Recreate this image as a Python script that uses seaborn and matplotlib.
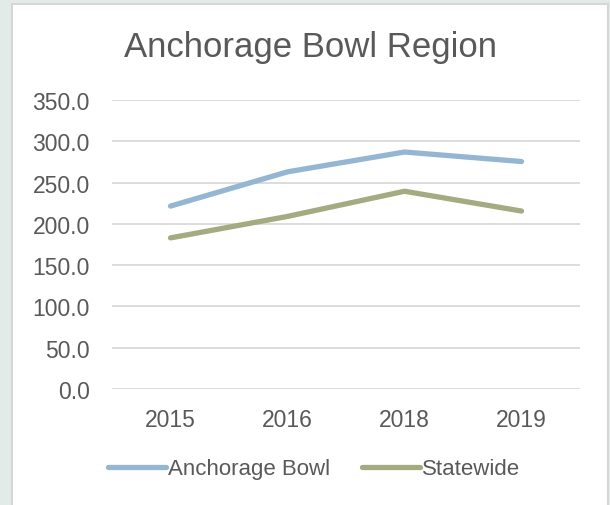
import pandas as pd
import matplotlib.pyplot as plt
import seaborn as sns
from matplotlib.patches import Rectangle

# Data
years = ["2015", "2016", "2018", "2019"]
anchorage = [221.5, 263.0, 287.0, 275.5]
statewide = [183.0, 209.0, 239.5, 215.5]
series_names = ["Anchorage Bowl", "Statewide"]
y_ticks = [0, 50, 100, 150, 200, 250, 300, 350]

df = pd.DataFrame({
    "year": years * 2,
    "value": anchorage + statewide,
    "series": [series_names[0]] * len(years) + [series_names[1]] * len(years),
})

sns.set_style("white")
plt.rcParams['font.family'] = ['Liberation Sans', 'DejaVu Sans']
text_col = "#595959"

fig = plt.figure(figsize=(6.10, 5.06), dpi=100)
fig.patch.set_facecolor("#E3EBE9")
# white chart box with thin grey border, behind the axes
fig.patches.append(Rectangle((12 / 610, -0.01), 596 / 610, 1 - 5 / 506 + 0.01,
                             transform=fig.transFigure, facecolor="white",
                             edgecolor="#D6D6D6", linewidth=1.5, zorder=-5))

ax = fig.add_axes([112 / 610, 1 - 390 / 506, 468 / 610, 289 / 506])
ax.patch.set_alpha(0)

palette = {"Anchorage Bowl": "#94B6D2", "Statewide": "#A5AB81"}
sns.lineplot(data=df, x="year", y="value", hue="series", palette=palette,
             linewidth=3.8, ax=ax, sort=False, legend=True)
for ln in ax.get_lines():
    ln.set_solid_capstyle("round")
    ln.set_solid_joinstyle("round")

ax.set_xlim(-0.5, 3.5)
ax.set_ylim(0, 350)
ax.set_yticks(y_ticks)
ax.set_yticklabels([f"{v:.1f}" for v in y_ticks])
ax.yaxis.grid(True, color="#D9D9D9", linewidth=1.3)
ax.set_axisbelow(True)
for s in ax.spines.values():
    s.set_visible(False)
ax.tick_params(axis="both", length=0, labelsize=16.5, labelcolor=text_col)
ax.tick_params(axis="y", pad=16)
ax.tick_params(axis="x", pad=14)
ax.set_xlabel("")
ax.set_ylabel("")

fig.text(310 / 610, 1 - 47 / 506, "Anchorage Bowl Region", ha="center", va="center",
         fontsize=25, color=text_col)

handles, labels = ax.get_legend_handles_labels()
ax.legend(handles, labels, loc="center", bbox_to_anchor=(314 / 610, 1 - 470 / 506),
          bbox_transform=fig.transFigure, ncol=2, frameon=False, fontsize=16,
          labelcolor=text_col, handlelength=2.6, handletextpad=0.1, columnspacing=1.45)
for h in ax.get_legend().get_lines():
    h.set_linewidth(3.8)
    h.set_solid_capstyle("round")

fig.savefig("out.png", dpi=100, facecolor=fig.get_facecolor())
